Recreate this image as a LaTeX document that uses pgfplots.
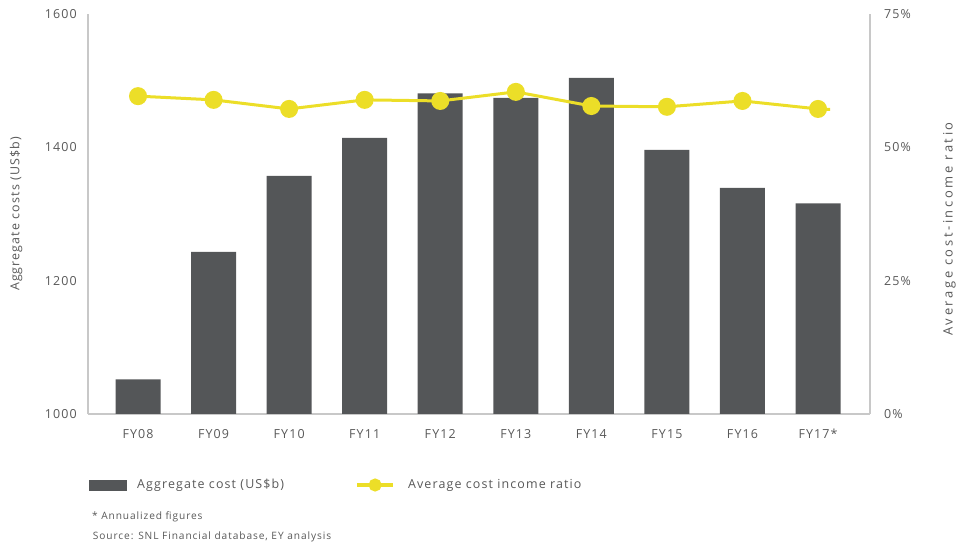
\documentclass[border=0pt]{standalone}
\usepackage{fontspec}
\setmainfont{Open Sans}[LetterSpace=9]
\newfontfamily\rlab{Open Sans}[LetterSpace=20]
\usepackage{pgfplots}
\pgfplotsset{compat=1.18}
\definecolor{barc}{RGB}{84,86,88}
\definecolor{ylw}{RGB}{236,222,40}
\definecolor{txt}{RGB}{88,88,88}
\definecolor{axc}{RGB}{200,200,200}
\begin{document}
\begin{tikzpicture}[font=\fontsize{12.5}{14}\selectfont]
\useasboundingbox (-88bp,-134bp) rectangle (870bp,414bp);
\begin{axis}[
  scale only axis, width=782bp, height=400bp,
  xmin=-0.662, xmax=9.688, ymin=1000, ymax=1600,
  axis x line*=bottom, axis y line*=left,
  axis line style={draw=axc, line width=1.4bp},
  major tick length=0pt,
  xtick={0,...,9},
  xticklabels={FY08,FY09,FY10,FY11,FY12,FY13,FY14,FY15,FY16,FY17*},
  ytick={1000,1200,1400,1600},
  /pgf/number format/assume math mode=true,
  /pgf/number format/1000 sep={},
  yticklabel style={text=txt, inner sep=0pt, anchor=east, xshift=-11bp},
  xticklabel style={text=txt, inner sep=0pt, anchor=north, yshift=-15bp},
  ylabel={Aggregate costs (US\$b)},
  ylabel style={at={(axis description cs:-0.092,0.5)}, anchor=center, text=txt, inner sep=0pt},
  ybar, bar width=45bp,
]
\addplot[fill=barc, draw=none, bar shift=0pt] coordinates {
(0,1052) (1,1243) (2,1357) (3,1414) (4,1481) (5,1474) (6,1504) (7,1396) (8,1339) (9,1316)};
\end{axis}
\begin{axis}[
  scale only axis, width=782bp, height=400bp, clip=false,
  xmin=-0.662, xmax=9.688, ymin=0, ymax=75,
  axis x line=none, axis y line*=right,
  axis line style={draw=axc, line width=1.4bp},
  major tick length=0pt,
  ytick={0,25,50,75},
  yticklabel={\pgfmathprintnumber{\tick}\%},
  /pgf/number format/assume math mode=true,
  yticklabel style={text=txt, inner sep=0pt, anchor=west, xshift=14bp},
  ylabel={Average cost-income ratio},
  ylabel style={at={(axis description cs:1.1015,0.4625)}, anchor=center, text=txt, inner sep=0pt, font=\rlab\fontsize{13}{15}\selectfont},
  legend columns=2,
  legend style={at={(axis description cs:0.001,-0.1775)}, anchor=west, draw=none, fill=none,
    inner sep=0pt, outer sep=0pt, nodes={inner sep=0pt, text=txt},
    /tikz/column 1/.style={column sep=11bp},
    /tikz/column 2/.style={column sep=71bp},
    /tikz/column 3/.style={column sep=13bp}},
]
\addlegendimage{legend image code/.code={\fill[barc] (0bp,-5bp) rectangle (37bp,5bp);}}
\addlegendentry{Aggregate cost (US\$b)}
\addplot[ylw, line width=3bp, mark=*, mark size=7.5bp, mark options={fill=ylw, draw=none},
  legend image code/.code={\draw[ylw, line width=4bp] (0bp,0bp) -- (36bp,0bp); \fill[ylw] (18bp,0bp) circle (5bp);}]
  coordinates {(0,59.6) (1,58.9) (2,57.2) (3,58.9) (4,58.7) (5,60.4) (6,57.75) (7,57.6) (8,58.7) (9,57.2)};
\addlegendentry{Average cost income ratio}
\addplot[ylw, line width=3bp, forget plot] coordinates {(9,57.2) (9.16,57.1)};
\node[anchor=west, inner sep=0pt, text=txt, font=\fontsize{10.2}{12}\selectfont] at (axis description cs:0.005,-0.2575) {* Annualized figures};
\node[anchor=west, inner sep=0pt, text=txt, font=\fontsize{10.2}{12}\selectfont] at (axis description cs:0.006,-0.3075) {Source: SNL Financial database, EY analysis};
\end{axis}
\end{tikzpicture}
\end{document}
